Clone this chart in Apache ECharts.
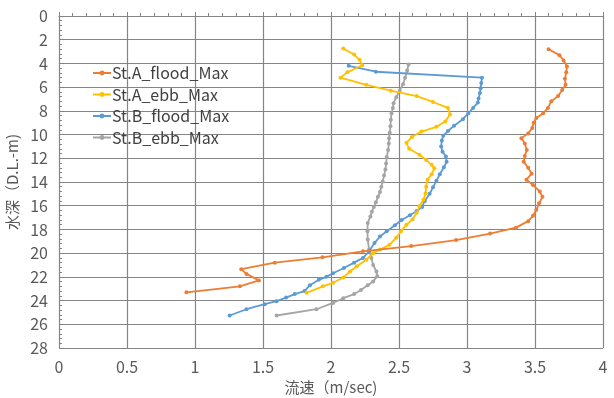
<!DOCTYPE html>
<html>
<head>
<meta charset="utf-8">
<script src="https://cdn.jsdelivr.net/npm/echarts@6/dist/echarts.min.js"></script>
<style>
  html, body { margin: 0; padding: 0; background: #ffffff; }
  #chart { width: 614px; height: 398px; }
</style>
</head>
<body>
<div id="chart"></div>
<script>
// Depth (D.L. -m) and maximum current speed (m/sec) for each station / tide
const seriesNames = ['St.A_flood_Max', 'St.A_ebb_Max', 'St.B_flood_Max', 'St.B_ebb_Max'];

const depthAFlood = [2.8, 3.3, 3.75, 4.25, 4.75, 5.3, 5.8, 6.25, 6.75, 7.2, 7.75, 8.2, 8.6, 9.0, 9.45, 9.9, 10.3, 10.75, 11.3, 11.8, 12.3, 12.8, 13.3, 13.8, 14.25, 14.8, 15.25, 15.8, 16.35, 16.85, 17.3, 17.85, 18.35, 18.9, 19.4, 19.85, 20.35, 20.8, 21.35, 21.75, 22.3, 22.8, 23.3];
const speedAFlood = [3.60, 3.68, 3.71, 3.735, 3.73, 3.72, 3.725, 3.70, 3.67, 3.62, 3.595, 3.56, 3.51, 3.49, 3.48, 3.45, 3.40, 3.425, 3.44, 3.425, 3.417, 3.45, 3.475, 3.437, 3.485, 3.535, 3.555, 3.53, 3.51, 3.485, 3.45, 3.36, 3.17, 2.92, 2.59, 2.235, 1.937, 1.587, 1.34, 1.378, 1.47, 1.33, 0.937];

const depthAEbb = [2.75, 3.25, 3.7, 4.15, 4.75, 5.2, 5.8, 6.3, 6.75, 7.25, 7.75, 8.3, 8.9, 9.35, 9.75, 10.2, 10.7, 11.2, 11.7, 12.15, 12.55, 12.85, 13.35, 13.8, 14.4, 14.95, 15.5, 16.05, 16.6, 17.15, 17.6, 18.15, 18.7, 19.3, 19.7, 20.0, 20.55, 21.1, 21.55, 22.05, 22.5, 22.8, 23.35];
const speedAEbb = [2.09, 2.17, 2.21, 2.23, 2.12, 2.07, 2.26, 2.44, 2.63, 2.75, 2.86, 2.875, 2.84, 2.775, 2.665, 2.595, 2.555, 2.575, 2.65, 2.70, 2.74, 2.76, 2.74, 2.71, 2.70, 2.695, 2.68, 2.65, 2.63, 2.60, 2.555, 2.515, 2.48, 2.43, 2.36, 2.31, 2.26, 2.19, 2.14, 2.09, 2.015, 1.94, 1.82];

const depthBFlood = [4.2, 4.7, 5.2, 5.65, 6.1, 6.5, 6.95, 7.3, 7.75, 8.2, 8.7, 9.25, 9.7, 10.1, 10.5, 11.0, 11.45, 11.85, 12.3, 12.75, 13.35, 13.9, 14.45, 15.0, 15.6, 16.1, 16.45, 16.8, 17.2, 17.65, 18.15, 18.6, 19.15, 19.85, 20.4, 20.8, 21.25, 21.7, 22.0, 22.25, 22.7, 23.2, 23.45, 23.75, 24.05, 24.3, 24.73, 25.26];
const speedBFlood = [2.13, 2.33, 3.11, 3.105, 3.10, 3.095, 3.085, 3.08, 3.045, 3.01, 2.97, 2.905, 2.86, 2.825, 2.815, 2.81, 2.82, 2.845, 2.85, 2.83, 2.80, 2.775, 2.75, 2.725, 2.69, 2.67, 2.63, 2.58, 2.52, 2.47, 2.41, 2.36, 2.32, 2.28, 2.235, 2.17, 2.095, 2.015, 1.966, 1.91, 1.845, 1.805, 1.733, 1.67, 1.60, 1.513, 1.378, 1.255];

const depthBEbb = [4.1, 4.6, 5.2, 5.75, 6.3, 6.85, 7.35, 7.75, 8.2, 8.75, 9.3, 9.85, 10.3, 10.75, 11.3, 11.9, 12.45, 12.95, 13.45, 13.95, 14.4, 14.85, 15.25, 15.7, 16.1, 16.5, 16.9, 17.45, 18.15, 18.85, 19.7, 20.4, 21.0, 21.55, 21.95, 22.4, 22.7, 23.1, 23.45, 23.8, 24.2, 24.73, 25.26];
const speedBEbb = [2.57, 2.56, 2.545, 2.53, 2.505, 2.48, 2.46, 2.455, 2.445, 2.44, 2.437, 2.432, 2.427, 2.425, 2.42, 2.41, 2.405, 2.40, 2.39, 2.38, 2.37, 2.36, 2.345, 2.33, 2.315, 2.30, 2.29, 2.27, 2.268, 2.27, 2.28, 2.297, 2.31, 2.334, 2.34, 2.31, 2.27, 2.22, 2.17, 2.09, 2.015, 1.893, 1.60];

const seriesColors = ['#ED7D31', '#FFC000', '#5B9BD5', '#A5A5A5'];

const xTitle = '流速（m/sec)';
const yTitle = '水深（D.L.-m)';

function pairs(speed, depth) {
  return speed.map((v, i) => [v, depth[i]]);
}

const seriesData = [
  pairs(speedAFlood, depthAFlood),
  pairs(speedAEbb, depthAEbb),
  pairs(speedBFlood, depthBFlood),
  pairs(speedBEbb, depthBEbb)
];

const font = '"Noto Sans CJK JP", "Noto Sans", sans-serif';
const gridColor = '#858585';
const textColor = '#595959';

const chart = echarts.init(document.getElementById('chart'), null, { renderer: 'canvas' });

chart.setOption({
  animation: false,
  backgroundColor: '#ffffff',
  textStyle: { fontFamily: font },
  grid: { left: 59, right: 11, top: 16, bottom: 50, outerBoundsMode: 'none', containLabel: false },
  legend: {
    show: true,
    orient: 'vertical',
    left: 92,
    top: 65,
    itemGap: 5.5,
    itemWidth: 18,
    itemHeight: 6,
    padding: 0,
    data: seriesNames,
    textStyle: { color: '#404040', fontSize: 16, fontFamily: font, padding: [0, 0, 0, -4] }
  },
  xAxis: {
    type: 'value',
    min: 0,
    max: 4,
    interval: 0.5,
    name: xTitle,
    nameLocation: 'middle',
    nameGap: 26,
    nameTextStyle: { color: textColor, fontSize: 15, fontFamily: font },
    axisLine: { show: true, lineStyle: { color: gridColor, width: 1 } },
    axisTick: { show: true, inside: true, length: 4, lineStyle: { color: gridColor } },
    minorTick: { show: true, splitNumber: 5, length: 3, lineStyle: { color: gridColor } },
    axisLabel: { color: textColor, fontSize: 16, margin: 11, fontFamily: font },
    splitLine: { show: true, lineStyle: { color: gridColor, width: 1.2 } }
  },
  yAxis: {
    type: 'value',
    inverse: true,
    min: 0,
    max: 28,
    interval: 2,
    name: yTitle,
    nameLocation: 'middle',
    nameGap: 37,
    nameRotate: 90,
    nameTextStyle: { color: textColor, fontSize: 15, fontFamily: font },
    axisLine: { show: true, lineStyle: { color: gridColor, width: 1 } },
    axisTick: { show: true, inside: true, length: 4, lineStyle: { color: gridColor } },
    minorTick: { show: true, splitNumber: 5, length: 3, lineStyle: { color: gridColor } },
    axisLabel: { color: textColor, fontSize: 16, margin: 11, fontFamily: font },
    splitLine: { show: true, lineStyle: { color: gridColor, width: 1.2 } }
  },
  series: seriesNames.map((name, i) => ({
    name: name,
    type: 'line',
    data: seriesData[i],
    color: seriesColors[i],
    showSymbol: true,
    symbol: 'circle',
    symbolSize: 4,
    lineStyle: { width: 1.8, color: seriesColors[i] },
    itemStyle: { color: seriesColors[i] },
    z: 10 - i
  }))
});
</script>
</body>
</html>
